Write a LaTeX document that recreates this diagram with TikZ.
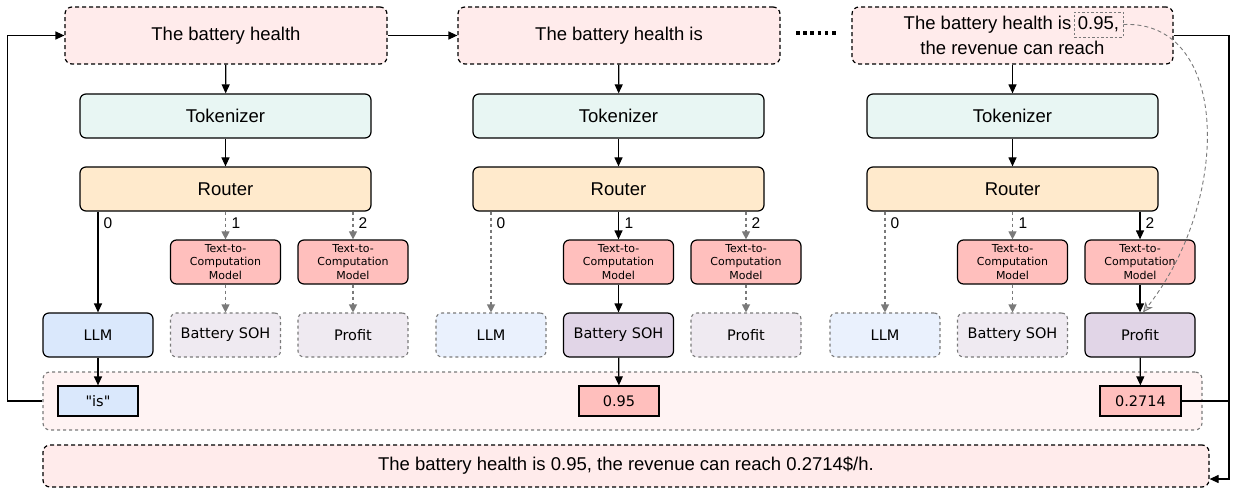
\documentclass[tikz,border=0pt]{standalone}
\usepackage{fontspec}
\setmainfont{Liberation Sans}
\newfontfamily\vfont{DejaVu Sans}
\usetikzlibrary{arrows.meta}

\definecolor{promptbg}{HTML}{FFEBEB}
\definecolor{stripbg}{HTML}{FFF3F3}
\definecolor{tokbg}{HTML}{E8F6F3}
\definecolor{routbg}{HTML}{FFEACC}
\definecolor{ttcbg}{HTML}{FFBFBD}
\definecolor{llmbg}{HTML}{DAE8FC}
\definecolor{llmidle}{HTML}{EAF1FD}
\definecolor{toolbg}{HTML}{E1D5E7}
\definecolor{toolidle}{HTML}{EFEAF1}
\definecolor{valbg}{HTML}{FFBFBD}
\definecolor{offgray}{HTML}{7A7A7A}

\newcommand\mainsz{\fontsize{18.5}{22}\selectfont}
\newcommand\toolsz{\vfont\fontsize{14.5}{17}\selectfont}
\newcommand\ttcsz{\vfont\fontsize{11}{13.2}\selectfont}
\newcommand\lblsz{\fontsize{15.5}{18}\selectfont}

\begin{document}
\begin{tikzpicture}[x=1pt,y=-1pt,
  bdash/.style={dash pattern=on 4pt off 3pt},
  prompt/.style={draw, line width=1.2pt, bdash, rounded corners=7pt, fill=promptbg,
    inner sep=0pt, minimum height=57pt, font=\mainsz},
  stage/.style={draw, line width=1.2pt, rounded corners=6pt, minimum width=291pt,
    minimum height=44pt, inner sep=0pt, font=\mainsz},
  ttc/.style={draw, line width=1.2pt, rounded corners=6pt, fill=ttcbg, minimum width=110pt,
    minimum height=44pt, inner sep=0pt, align=center, font=\ttcsz},
  tool/.style={draw, line width=1.2pt, rounded corners=6pt, minimum width=110pt,
    minimum height=44pt, inner sep=0pt, font=\toolsz},
  idlebox/.style={draw=offgray, line width=1.1pt, dash pattern=on 3pt off 3pt},
  val/.style={draw, line width=1.2pt, minimum width=80pt, minimum height=30pt,
    inner sep=0pt, font=\toolsz},
  live/.style={line width=1.2pt, -{Triangle[length=9pt,width=8pt]}},
  idle/.style={line width=1.1pt, draw=offgray, dash pattern=on 3pt off 3pt,
    -{Triangle[length=8pt,width=8pt,fill=offgray]}},
  lbl/.style={font=\lblsz, anchor=west, inner sep=0pt}]

\useasboundingbox (0,0) rectangle (1233,489);

% prompts at each generation step
\node[prompt, minimum width=322pt] (pr1) at (226,35.5) {The battery health};
\node[prompt, minimum width=322pt] (pr2) at (619,35.5) {The battery health is};
\node[prompt, minimum width=321pt] (pr3) at (1012.5,35.5) {};
\node[draw=offgray, dash pattern=on 2.5pt off 2pt, line width=0.9pt, inner sep=0pt,
  minimum width=49pt, minimum height=25pt, font=\mainsz] (hl) at (1098.5,24.5) {0.95,};
\node[font=\mainsz, anchor=base east, inner sep=0pt] (pr3a) at ([xshift=-2pt]hl.base west) {The battery health is};
\node[font=\mainsz, inner sep=0pt] (pr3b) at (1012.5,47.5) {the revenue can reach};

% shared pipeline: tokenizer, router, two text-to-computation models
\foreach \p/\dx in {1/0,2/393,3/787} {
  \node[stage, fill=tokbg] (tok\p) at (225.5+\dx,116) {Tokenizer};
  \node[stage, fill=routbg] (rt\p) at (225.5+\dx,189) {Router};
  \node[ttc] (ta\p) at (225.5+\dx,262) {Text-to-\\Computation\\Model};
  \node[ttc] (tb\p) at (353+\dx,262) {Text-to-\\Computation\\Model};
  \draw[live] (pr\p) -- (tok\p);
  \draw[live] (tok\p) -- (rt\p);
  \node[lbl] at (103.5+\dx,223) {0};
  \node[lbl] at (231.5+\dx,223) {1};
  \node[lbl] at (358.5+\dx,223) {2};
}

% output strip
\node[idlebox, fill=stripbg, rounded corners=7pt, minimum width=1159pt, minimum height=58pt,
  inner sep=0pt] (strip) at (622.5,401) {};

% step 1: LLM branch
\node[tool, fill=llmbg] (llm1) at (98,335) {LLM};
\node[tool, idlebox, fill=toolidle] (soh1) at (225.5,335) {Battery SOH};
\node[tool, idlebox, fill=toolidle] (pf1) at (353,335) {Profit};
\draw[live] (rt1.south -| llm1.north) -- (llm1.north);
\draw[idle] (rt1.south -| ta1.north) -- (ta1.north);
\draw[idle] (rt1.south -| tb1.north) -- (tb1.north);
\draw[idle] (ta1) -- (soh1);
\draw[idle] (tb1) -- (pf1);
\node[val, fill=llmbg] (isv) at (98,401) {"is"};
\draw[live] (llm1) -- (isv);

% step 2: battery SOH branch
\node[tool, idlebox, fill=llmidle] (llm2) at (491,335) {LLM};
\node[tool, fill=toolbg] (soh2) at (618.5,335) {Battery SOH};
\node[tool, idlebox, fill=toolidle] (pf2) at (746,335) {Profit};
\draw[idle] (rt2.south -| llm2.north) -- (llm2.north);
\draw[live] (rt2.south -| ta2.north) -- (ta2.north);
\draw[idle] (rt2.south -| tb2.north) -- (tb2.north);
\draw[live] (ta2) -- (soh2);
\draw[idle] (tb2) -- (pf2);
\node[val, fill=valbg] (v2) at (619,401) {0.95};
\draw[live] (soh2) -- (v2);

% step 3: profit branch
\node[tool, idlebox, fill=llmidle] (llm3) at (885,335) {LLM};
\node[tool, idlebox, fill=toolidle] (soh3) at (1012.5,335) {Battery SOH};
\node[tool, fill=toolbg] (pf3) at (1140,335) {Profit};
\draw[idle] (rt3.south -| llm3.north) -- (llm3.north);
\draw[idle] (rt3.south -| ta3.north) -- (ta3.north);
\draw[live] (rt3.south -| tb3.north) -- (tb3.north);
\draw[idle] (ta3) -- (soh3);
\draw[live] (tb3) -- (pf3);
\node[val, fill=valbg, minimum width=81pt] (v3) at (1140.5,401) {0.2714};
\draw[live] (pf3) -- (v3);

% final answer
\node[prompt, minimum width=1166pt, minimum height=42pt] (fin) at (626,466)
  {The battery health is 0.95, the revenue can reach 0.2714\$/h.};

% feedback and step-to-step connectors
\draw[live] (strip.west) -- ++(-35,0) |- (pr1.west);
\draw[live] (pr1) -- (pr2);
\draw[line width=3.5pt, dash pattern=on 3.5pt off 3.7pt] (796,33) -- (838,33);
\coordinate (rr) at (1229,479);
\draw[live] (pr3.east) -| (rr) -- (rr -| fin.east);
\draw[line width=1.2pt] (v3.east) -- (v3.east -| rr);

% reuse of the computed value
\draw[offgray, line width=0.9pt, dash pattern=on 4pt off 3pt,
  -{Stealth[length=10pt,width=9pt,inset=3pt,fill=offgray!40]}]
  (hl.east) .. controls (1230,20) and (1232,200) .. ([xshift=3pt]pf3.north);

\end{tikzpicture}
\end{document}
